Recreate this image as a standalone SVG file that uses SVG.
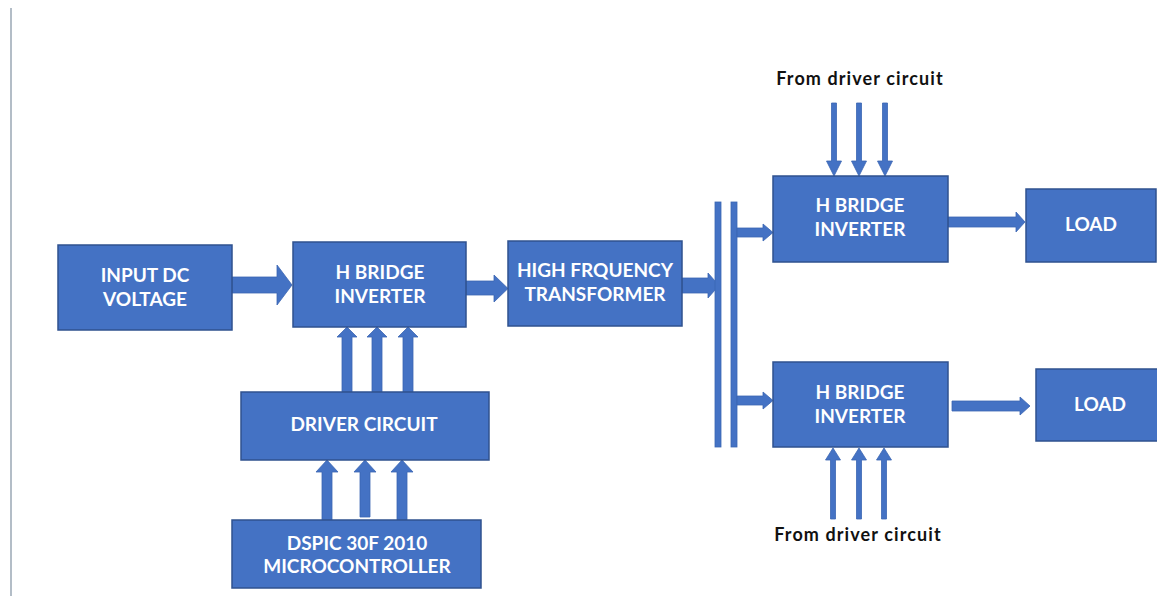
<svg xmlns="http://www.w3.org/2000/svg" width="1157" height="598" viewBox="0 0 1157 598">
<style>
.box{fill:#4472C4;stroke:#2F528F;stroke-width:1.5}
.lbl{font-family:Lato,"Open Sans","Liberation Sans",sans-serif;font-weight:bold;font-size:19px;fill:#ffffff;text-anchor:middle}
.note{font-family:Lato,"Open Sans","Liberation Sans",sans-serif;font-weight:bold;font-size:18px;fill:#111111;text-anchor:middle;letter-spacing:1.1px}
.arr{fill:#4472C4;stroke:#3B66B3;stroke-width:0.8}
</style>
<rect width="1157" height="598" fill="#ffffff"/>
<line x1="11" y1="8" x2="11" y2="596" stroke="#9aa7b5" stroke-width="1.5"/>
<g id="connectors">
<path class="arr" d="M232,277 H277 V265 L292,285 L277,305 V293 H232 Z"/>
<path class="arr" d="M466,281 H494 V275 L508,288.5 L494,302 V295 H466 Z"/>
<path class="arr" d="M682,278 H708 V273 L719,285.5 L708,298 V293 H682 Z"/>
<rect class="arr" x="715" y="202" width="6" height="245"/>
<rect class="arr" x="731" y="202" width="6" height="245"/>
<path class="arr" d="M737,228 H763 V224 L773,232.5 L763,241 V237 H737 Z"/>
<path class="arr" d="M737,396 H763 V392 L773,400.5 L763,409 V405 H737 Z"/>
<path class="arr" d="M948,217 H1016 V212 L1025,222 L1016,232 V227 H948 Z"/>
<path class="arr" d="M952,401 H1020 V397 L1030,406 L1020,415 V411 H952 Z"/>
<path class="arr" d="M342,392 V337 H337 L347,327 L357,337 H352 V392 Z"/>
<path class="arr" d="M372,392 V337 H367 L377,327 L387,337 H382 V392 Z"/>
<path class="arr" d="M403,392 V337 H398 L408,327 L418,337 H413 V392 Z"/>
<path class="arr" d="M322,520 V472 H316 L327,460 L338,472 H332 V520 Z"/>
<path class="arr" d="M360,517 V472 H354 L365,460 L376,472 H370 V517 Z"/>
<path class="arr" d="M397,520 V472 H391 L402,460 L413,472 H407 V520 Z"/>
<path class="arr" d="M831.5,103 V161 H826.5 L834,176 L841.5,161 H836.5 V103 Z"/>
<path class="arr" d="M856.5,103 V161 H851.5 L859,176 L866.5,161 H861.5 V103 Z"/>
<path class="arr" d="M882.5,103 V161 H877.5 L885,176 L892.5,161 H887.5 V103 Z"/>
<path class="arr" d="M830.5,519 V460 H825.5 L833,448 L840.5,460 H835.5 V519 Z"/>
<path class="arr" d="M856.5,519 V460 H851.5 L859,448 L866.5,460 H861.5 V519 Z"/>
<path class="arr" d="M881.5,519 V460 H876.5 L884,448 L891.5,460 H886.5 V519 Z"/>
</g>
<g id="input-dc">
<rect class="box" x="58" y="245" width="174" height="85"/>
<text class="lbl" x="145" y="282">INPUT DC</text>
<text class="lbl" x="145" y="306">VOLTAGE</text>
</g>
<g id="hbridge-1">
<rect class="box" x="293" y="242" width="173" height="85"/>
<text class="lbl" x="380" y="279">H BRIDGE</text>
<text class="lbl" x="380" y="303">INVERTER</text>
</g>
<g id="hf-transformer">
<rect class="box" x="508" y="241" width="174" height="85"/>
<text class="lbl" x="595" y="277">HIGH FRQUENCY</text>
<text class="lbl" x="595" y="301">TRANSFORMER</text>
</g>
<g id="driver-circuit">
<rect class="box" x="241" y="392" width="248" height="68"/>
<text class="lbl" x="364" y="431">DRIVER CIRCUIT</text>
</g>
<g id="dspic">
<rect class="box" x="232" y="520" width="249" height="68"/>
<text class="lbl" x="357" y="550">DSPIC 30F 2010</text>
<text class="lbl" x="357" y="573">MICROCONTROLLER</text>
</g>
<g id="hbridge-top">
<rect class="box" x="773" y="176" width="175" height="86"/>
<text class="lbl" x="860" y="212">H BRIDGE</text>
<text class="lbl" x="860" y="236">INVERTER</text>
</g>
<g id="hbridge-bottom">
<rect class="box" x="773" y="362" width="175" height="85"/>
<text class="lbl" x="860" y="399">H BRIDGE</text>
<text class="lbl" x="860" y="423">INVERTER</text>
</g>
<g id="load-top">
<rect class="box" x="1026" y="189" width="130" height="73"/>
<text class="lbl" x="1091" y="231">LOAD</text>
</g>
<g id="load-bottom">
<rect class="box" x="1036" y="369" width="125" height="72"/>
<text class="lbl" x="1100" y="411">LOAD</text>
</g>
<g id="note-top">
<text class="note" x="860" y="85">From driver circuit</text>
</g>
<g id="note-bottom">
<text class="note" x="858" y="541">From driver circuit</text>
</g>
</svg>
